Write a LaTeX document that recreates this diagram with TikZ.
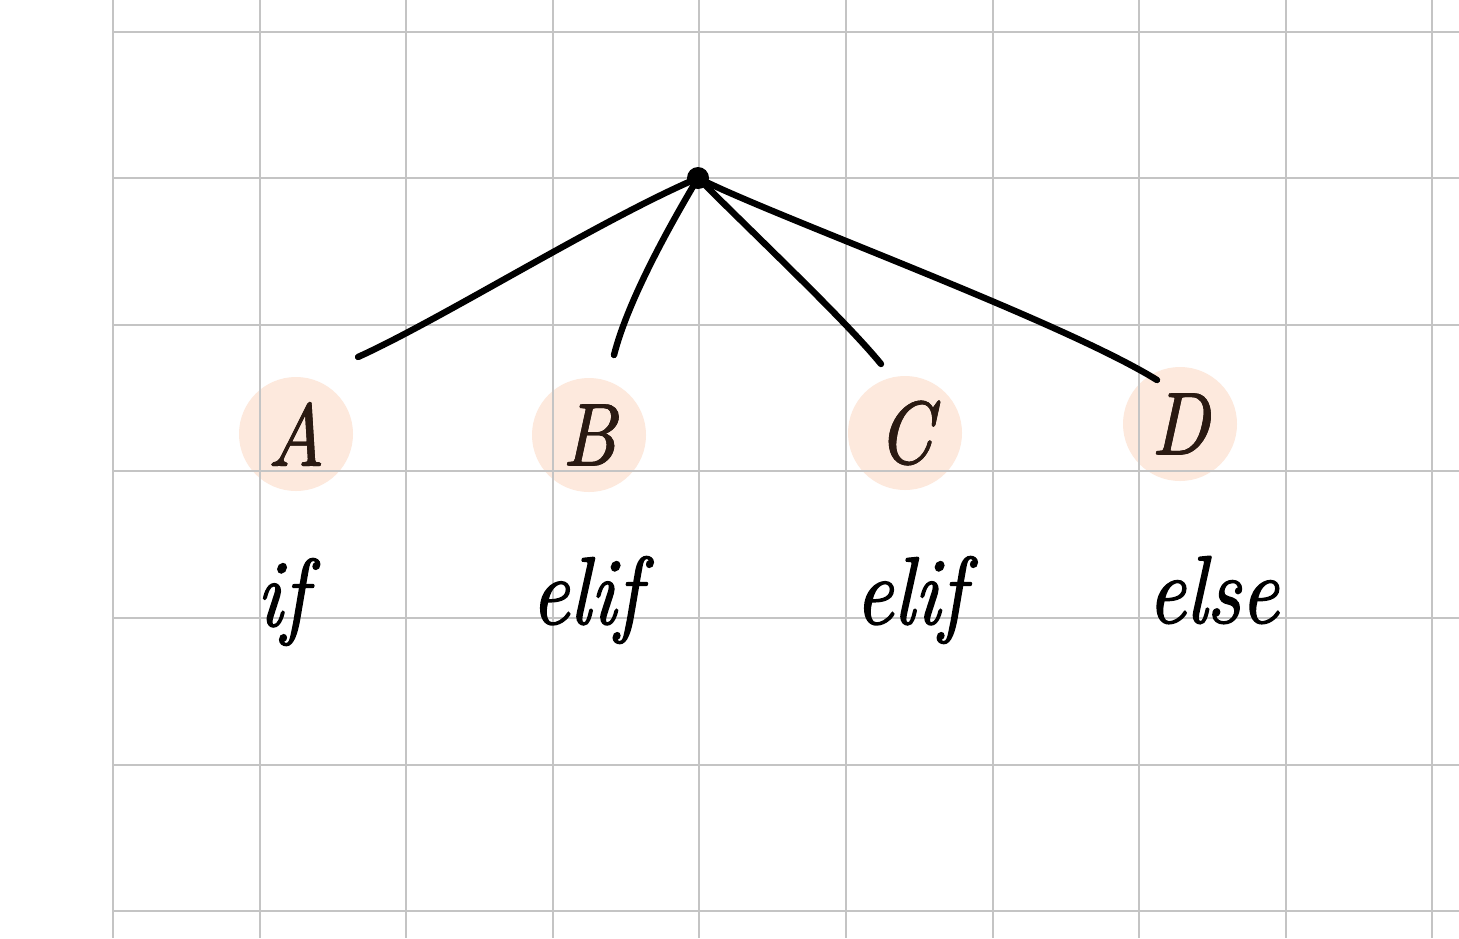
\documentclass[tikz,border=0pt]{standalone}
\usepackage{fontspec}
\setmainfont{Latin Modern Roman}
\newfontfamily\handfont[FakeStretch=0.88,FakeBold=1.6]{Latin Modern Roman}
\definecolor{gridc}{HTML}{C4C4C4}
\definecolor{blob}{HTML}{FDE9DD}
\definecolor{letterc}{HTML}{2A1A12}
\begin{document}
\begin{tikzpicture}[x=0.5pt,y=-0.5pt,
  gridline/.style={draw=gridc,line width=1pt},
  blobnode/.style={circle,fill=blob,minimum size=57pt,inner sep=0pt,text=letterc,font=\fontsize{44}{44}\handfont\itshape},
  lbl/.style={font=\fontsize{48}{48}\handfont\itshape,text=black,inner sep=0pt},
  edge/.style={draw=black,line width=3.2pt,line cap=round,line join=round}]
\useasboundingbox (0,0) rectangle (1459,938);
\fill[white] (0,0) rectangle (1459,938);
% circles beneath grid
\node[blobnode] (A) at (296,434) {A};
\node[blobnode] (B) at (589,435) {B};
\node[blobnode] (C) at (905,433) {C};
\node[blobnode] (D) at (1180,424) {D};
% grid
\foreach \i in {0,...,9} \draw[gridline] (113+146.6*\i,0) -- (113+146.6*\i,938);
\foreach \j in {0,...,6} \draw[gridline] (113,31.5+146.6*\j) -- (1459,31.5+146.6*\j);
% letters redrawn on top of grid
\node[blobnode,fill=none] at (296,434) {A};
\node[blobnode,fill=none] at (589,435) {B};
\node[blobnode,fill=none] at (905,433) {C};
\node[blobnode,fill=none] at (1180,424) {D};
% labels
\node[lbl] (lA) at (282,602) {if};
\node[lbl] (lB) at (586,600) {elif};
\node[lbl] (lC) at (910,600) {elif};
\node[lbl] (lD) at (1213,590) {else};
% hub and connectors
\node[circle,fill=black,minimum size=11pt,inner sep=0pt] (hub) at (698,178) {};
\coordinate (eA) at (358,357);
\coordinate (eB) at (614,355);
\coordinate (eC) at (881,364);
\coordinate (eD) at (1157,380);
\draw[edge] (hub.center) .. controls (600,220) and (440,320) .. (eA);
\draw[edge] (hub.center) .. controls (670,225) and (628,300) .. (eB);
\draw[edge] (hub.center) .. controls (760,240) and (845,320) .. (eC);
\draw[edge] (hub.center) .. controls (770,215) and (1060,320) .. (eD);
\end{tikzpicture}
\end{document}
